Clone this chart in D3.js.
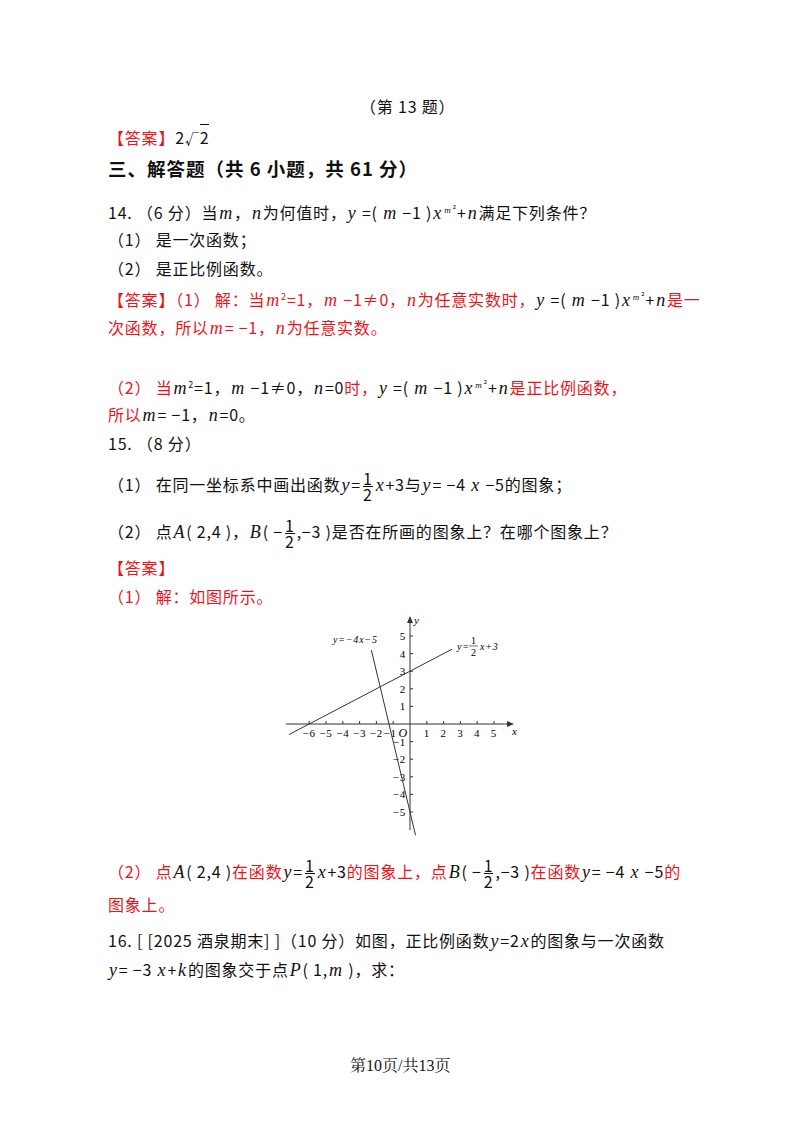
<!DOCTYPE html><html><head><meta charset="utf-8">
<script src="https://cdn.jsdelivr.net/npm/d3@7"></script>
<style>
body{margin:0;width:800px;height:1132px;background:#fff;position:relative;font-family:"Noto Sans CJK SC","Noto Sans",sans-serif;font-size:16px;letter-spacing:0.8px;color:#111}
.l{position:absolute;left:108px;white-space:nowrap;line-height:20px}
.r{color:#e8151b}
i{font-family:"Liberation Serif",serif;font-size:18px;padding:0 1px}
.f{display:inline-block;vertical-align:middle;text-align:center;line-height:15px;margin:0 2px}
.f span{display:block}
.f .n{border-bottom:1px solid currentColor}
sup{font-size:9px}
</style></head><body>
<div class="l" style="left:360px;top:96px">（第 13 题）</div>
<div class="l" style="top:127px"><span class="r">【答案】</span>2<span style="font-size:14px">√</span><span style="border-top:1px solid #111">2</span></div>
<div class="l" style="top:158px;font-size:18.5px;font-weight:bold;letter-spacing:1px">三、解答题（共 6 小题，共 61 分）</div>
<div class="l" style="top:200px">14. （6 分）当<i>m</i>，<i>n</i>为何值时，<i>y</i> =( <i>m</i> −1 )<i>x</i><sup><i style="font-size:9px">m</i>²</sup>+<i>n</i>满足下列条件？</div>
<div class="l" style="top:229px">（1） 是一次函数；</div>
<div class="l" style="top:258px">（2） 是正比例函数。</div>
<div class="l r" style="top:287px">【答案】（1） 解：当<i>m</i><sup>2</sup>=1，<i>m</i> −1≠0，<i>n</i>为任意实数时，<span style="color:#111"><i>y</i> =( <i>m</i> −1 )<i>x</i><sup><i style="font-size:9px">m</i>²</sup>+<i>n</i></span>是一</div>
<div class="l r" style="top:317px">次函数，所以<i>m</i>= −1，<i>n</i>为任意实数。</div>
<div class="l" style="top:375px"><span class="r">（2） 当</span><i>m</i><sup>2</sup>=1，<i>m</i> −1≠0，<i>n</i>=0<span class="r">时，</span><i>y</i> =( <i>m</i> −1 )<i>x</i><sup><i style="font-size:9px">m</i>²</sup>+<i>n</i><span class="r">是正比例函数，</span></div>
<div class="l" style="top:404px"><span class="r">所以</span><i>m</i>= −1，<i>n</i>=0。</div>
<div class="l" style="top:433px">15. （8 分）</div>
<div class="l" style="top:471px">（1） 在同一坐标系中画出函数<i>y</i>=<span class="f"><span class="n">1</span><span>2</span></span><i>x</i>+3与<i>y</i>= −4 <i>x</i> −5的图象；</div>
<div class="l" style="top:518px">（2） 点<i>A</i>( 2,4 )，<i>B</i>( −<span class="f"><span class="n">1</span><span>2</span></span>,−3 )是否在所画的图象上？在哪个图象上？</div>
<div class="l r" style="top:557px">【答案】</div>
<div class="l r" style="top:586px">（1） 解：如图所示。</div>
<div class="l r" style="top:858px">（2） 点<span style="color:#111"><i>A</i>( 2,4 )</span>在函数<span style="color:#111"><i>y</i>=<span class="f"><span class="n">1</span><span>2</span></span><i>x</i>+3</span>的图象上，点<span style="color:#111"><i>B</i>( −<span class="f"><span class="n">1</span><span>2</span></span>,−3 )</span>在函数<span style="color:#111"><i>y</i>= −4 <i>x</i> −5</span>的</div>
<div class="l r" style="top:894px">图象上。</div>
<div class="l" style="top:930px">16. [ [2025 酒泉期末] ]（10 分）如图，正比例函数<i>y</i>=2<i>x</i>的图象与一次函数</div>
<div class="l" style="top:959px"><i>y</i>= −3 <i>x</i>+<i>k</i>的图象交于点<i>P</i>( 1,<i>m</i> )，求：</div>
<div class="l" style="left:350px;top:1056px;letter-spacing:0;font-family:'Liberation Serif','Noto Serif CJK SC',serif">第10页/共13页</div>
<svg id="c" width="800" height="1132" style="position:absolute;left:0;top:0"></svg>
<script>
const xTicks=[-6,-5,-4,-3,-2,-1,1,2,3,4,5];
const yTicks=[-5,-4,-3,-2,-1,1,2,3,4,5];
const line1X=[-7.2,2.5]; // y = x/2 + 3
const line2X=[-2.3,0.33]; // y = -4x - 5
const f1=x=>x/2+3, f2=x=>-4*x-5;
const x=d3.scaleLinear().domain([0,5]).range([410,494]);
const y=d3.scaleLinear().domain([0,5]).range([724,636]);
const s=d3.select("#c"),k="#333";
const ff="'Liberation Serif',serif";
s.append("line").attr("x1",286).attr("x2",510).attr("y1",y(0)).attr("y2",y(0)).attr("stroke",k);
s.append("path").attr("d",`M514,${y(0)}l-7,-3v6z`).attr("fill",k);
s.append("line").attr("x1",x(0)).attr("x2",x(0)).attr("y1",830).attr("y2",621).attr("stroke",k);
s.append("path").attr("d",`M${x(0)},616l-3,7h6z`).attr("fill",k);
xTicks.forEach(t=>{s.append("line").attr("x1",x(t)).attr("x2",x(t)).attr("y1",y(0)).attr("y2",y(0)-3).attr("stroke",k);
 s.append("text").attr("x",x(t)-(t===-1?3:0)).attr("y",y(0)+13).attr("text-anchor","middle").attr("font-family",ff).attr("font-size",11).text(t<0?"−"+(-t):t);});
yTicks.forEach(t=>{s.append("line").attr("x1",x(0)).attr("x2",x(0)+3).attr("y1",y(t)).attr("y2",y(t)).attr("stroke",k);
 s.append("text").attr("x",x(0)-4).attr("y",y(t)+4).attr("text-anchor","end").attr("font-family",ff).attr("font-size",11).text(t<0?"−"+(-t):t);});
s.append("text").attr("x",x(0)-2).attr("y",y(0)+13).attr("text-anchor","end").attr("font-family",ff).attr("font-style","italic").attr("font-size",12).text("O");
s.append("text").attr("x",512).attr("y",y(0)+11).attr("font-family",ff).attr("font-style","italic").attr("font-size",11).text("x");
s.append("text").attr("x",x(0)+4).attr("y",624).attr("font-family",ff).attr("font-style","italic").attr("font-size",11).text("y");
s.append("line").attr("x1",x(line1X[0])).attr("y1",y(f1(line1X[0]))).attr("x2",x(line1X[1])).attr("y2",y(f1(line1X[1]))).attr("stroke",k);
s.append("line").attr("x1",x(line2X[0])).attr("y1",y(f2(line2X[0]))).attr("x2",x(line2X[1])).attr("y2",y(f2(line2X[1]))).attr("stroke",k);
s.append("text").attr("x",333).attr("y",643).attr("font-family",ff).attr("font-style","italic").attr("font-size",10).text("y=−4x−5");
const g=s.append("g").attr("font-family",ff).attr("font-size",10);
g.append("text").attr("x",457).attr("y",650).attr("font-style","italic").text("y=");
g.append("text").attr("x",471).attr("y",644).text("1");
g.append("line").attr("x1",469).attr("x2",478).attr("y1",646).attr("y2",646).attr("stroke",k).attr("stroke-width",0.7);
g.append("text").attr("x",471).attr("y",656).text("2");
g.append("text").attr("x",480).attr("y",650).attr("font-style","italic").text("x+3");
</script></body></html>
